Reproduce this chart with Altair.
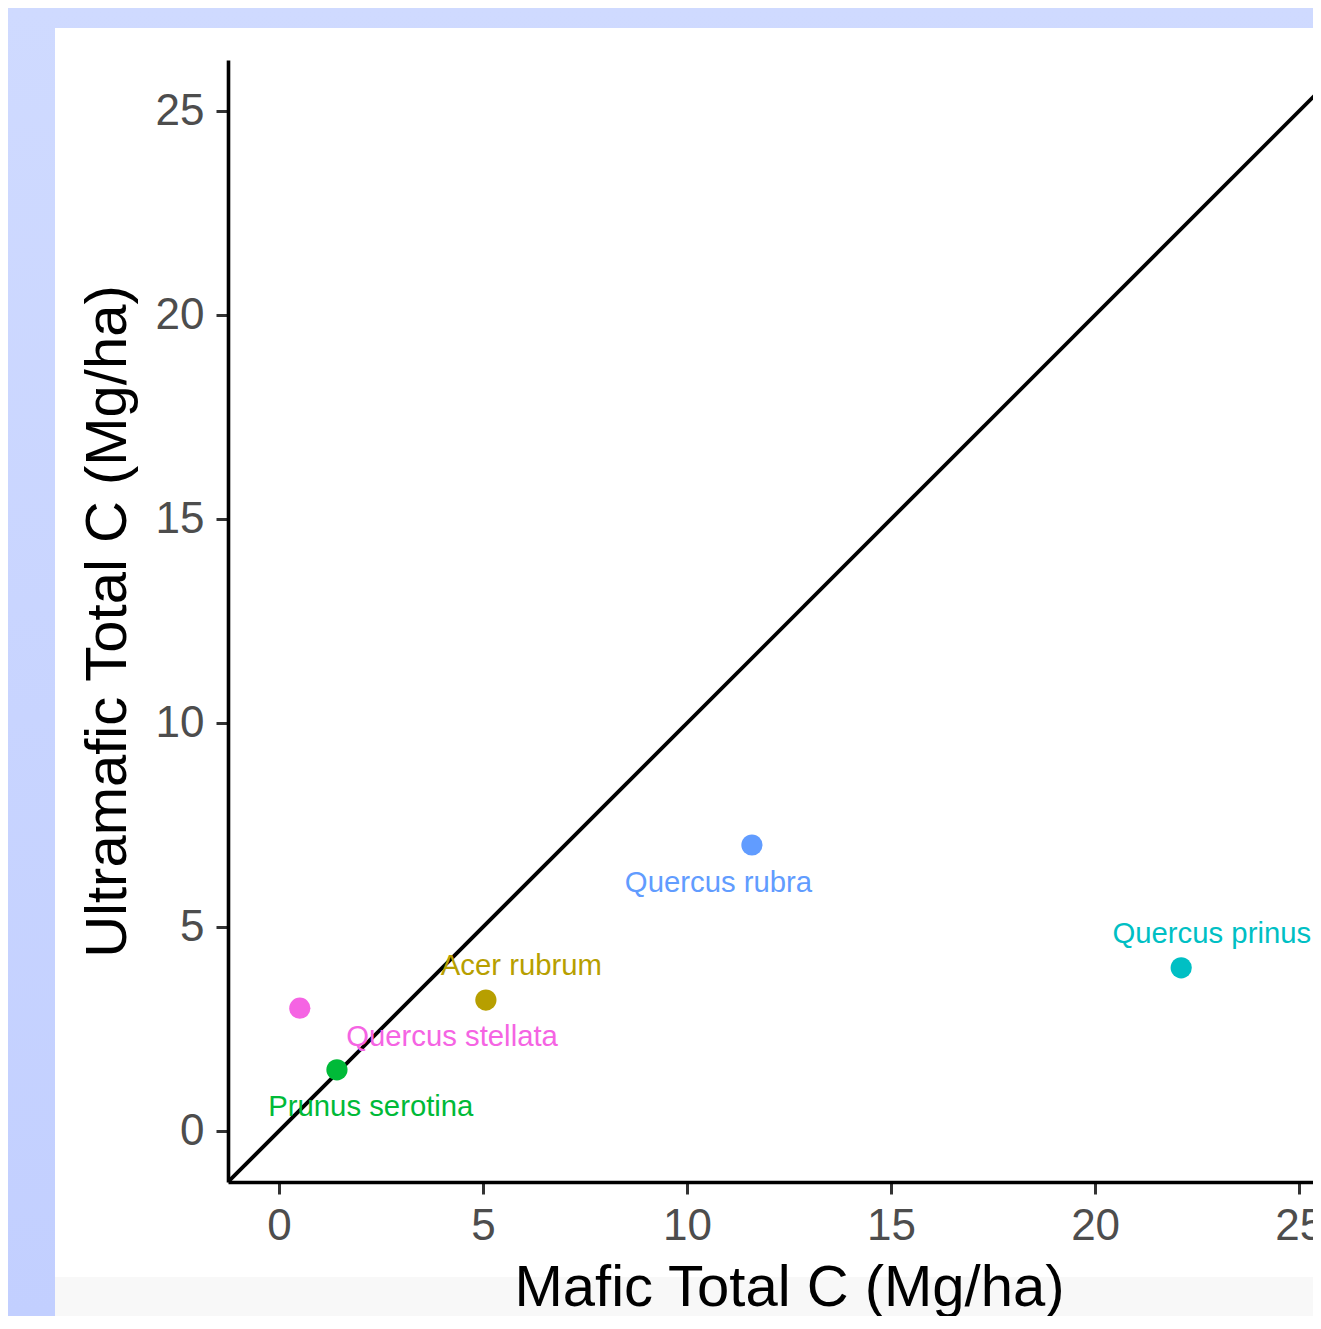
import altair as alt
import pandas as pd

# ---- data ----
species = ["Quercus stellata", "Prunus serotina", "Acer rubrum", "Quercus rubra", "Quercus prinus"]
mafic_c = [0.51, 1.42, 5.07, 11.59, 22.11]
ultramafic_c = [3.01, 1.50, 3.21, 7.01, 4.00]
# label anchor positions (data units, as placed by a label-repel step)
label_x = [4.24, 2.25, 5.94, 10.77, 22.86]
label_y = [2.33, 0.61, 4.06, 6.10, 4.85]
species_colors = ["#F564E3", "#00BA38", "#B79F00", "#619CFF", "#00BFC4"]
tick_values = [0, 5, 10, 15, 20, 25]
x_domain = [-1.25, 25.34]
y_domain = [-1.25, 26.25]
ref_line = [-1.25, 26.25]  # 1:1 line y = x

FONT = "Liberation Sans"

df = pd.DataFrame({
    "species": species,
    "mafic": mafic_c,
    "ultra": ultramafic_c,
    "lx": label_x,
    "ly": label_y,
})
line_df = pd.DataFrame({"v": ref_line})
one = pd.DataFrame({"a": [0]})

color_scale = alt.Scale(domain=species, range=species_colors)
xs = alt.Scale(domain=x_domain, nice=False, zero=False)
ys = alt.Scale(domain=y_domain, nice=False, zero=False)

W, H = 1085, 1122
PAD = {"left": 220, "top": 52, "right": 0, "bottom": 134}
BOTTOM = H + PAD["bottom"]

# slide background (blue gradient), ggplot white background and grey footer strip
bg = alt.Chart(one).mark_rect(
    color=alt.LinearGradient(
        gradient="linear",
        stops=[alt.GradientStop(color="#CFDAFF", offset=0),
               alt.GradientStop(color="#C2CFFF", offset=1)],
        x1=0, x2=0, y1=0, y2=1,
    )
).encode(x=alt.value(-PAD["left"]), x2=alt.value(W), y=alt.value(-PAD["top"]), y2=alt.value(BOTTOM))

white = alt.Chart(one).mark_rect(color="white").encode(
    x=alt.value(-173), x2=alt.value(W), y=alt.value(-32), y2=alt.value(1217)
)
grey = alt.Chart(one).mark_rect(color="#F8F8F8").encode(
    x=alt.value(-173), x2=alt.value(W), y=alt.value(1217), y2=alt.value(BOTTOM)
)

x_axis = alt.Axis(
    values=tick_values, title="Mafic Total C (Mg/ha)", grid=False,
    domainColor="black", domainWidth=3.6,
    tickColor="#333333", tickWidth=3, tickSize=12,
    labelColor="#4D4D4D", labelFontSize=44, labelFont=FONT, labelPadding=10,
    titleFont=FONT, titleFontSize=58, titleFontWeight="normal", titleColor="black",
    titleX=561, titleY=123, titleBaseline="alphabetic", titleAlign="center",
    zindex=1,
)
y_axis = alt.Axis(
    values=tick_values, title="Ultramafic Total C (Mg/ha)", grid=False,
    domainColor="black", domainWidth=3.6,
    tickColor="#333333", tickWidth=3, tickSize=12,
    labelColor="#4D4D4D", labelFontSize=44, labelFont=FONT, labelPadding=12,
    titleFont=FONT, titleFontSize=58, titleFontWeight="normal", titleColor="black",
    titleX=-103, titleY=561, titleBaseline="alphabetic", titleAlign="center",
    titleAngle=270, zindex=1,
)

line = alt.Chart(line_df).mark_line(color="black", strokeWidth=3.8, clip=True).encode(
    x=alt.X("v:Q", scale=xs, axis=x_axis),
    y=alt.Y("v:Q", scale=ys, axis=y_axis),
)

points = alt.Chart(df).mark_circle(size=450, opacity=1).encode(
    x=alt.X("mafic:Q", scale=xs),
    y=alt.Y("ultra:Q", scale=ys),
    color=alt.Color("species:N", scale=color_scale, legend=None),
)

labels = alt.Chart(df).mark_text(
    font=FONT, fontSize=29.3, align="center", baseline="middle", dy=1
).encode(
    x=alt.X("lx:Q", scale=xs),
    y=alt.Y("ly:Q", scale=ys),
    text="species:N",
    color=alt.Color("species:N", scale=color_scale, legend=None),
)

chart = alt.layer(bg, white, grey, line, points, labels).properties(
    width=W,
    height=H,
    padding=PAD,
    autosize=alt.AutoSizeParams(type="none"),
).configure_view(stroke=None)

chart.save("out.html", embed_options={"renderer": "svg", "actions": False})
